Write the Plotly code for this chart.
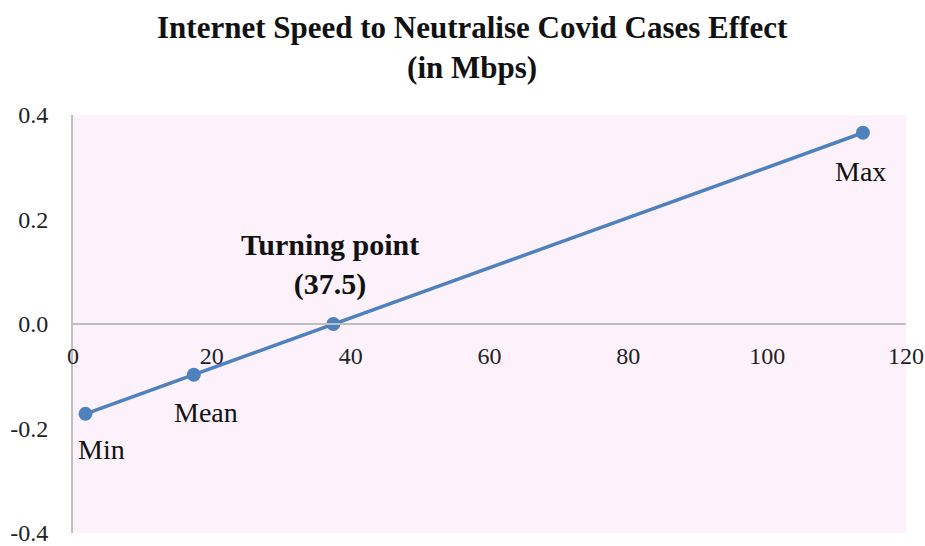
import plotly.graph_objects as go

# Internet speed (Mbps) against the estimated Covid-cases effect
speed = [1.8, 17.4, 37.5, 113.8]
effect = [-0.172, -0.097, 0.0, 0.366]
point_names = ["Min", "Mean", "Turning point<br>(37.5)", "Max"]

x_ticks = [0, 20, 40, 60, 80, 100, 120]
y_ticks = [-0.4, -0.2, 0.0, 0.2, 0.4]
y_tick_text = ["-0.4", "-0.2", "0.0", "0.2", "0.4"]

FONT = "Liberation Serif, Times New Roman, serif"
LINE_BLUE = "#4F81BD"
AXIS_GREY = "#BFBFBF"
TEXT = "#111111"

fig = go.Figure()
fig.add_trace(go.Scatter(
    x=speed, y=effect,
    mode="lines+markers",
    line=dict(color=LINE_BLUE, width=3.5),
    marker=dict(color=LINE_BLUE, size=14),
    hoverinfo="x+y",
    showlegend=False,
))

# Point labels: plain under Min/Mean/Max, bold above the turning point
label_offsets = {
    "Min": (16, -36),
    "Mean": (12, -38),
    "Max": (-2, -39),
}
for xv, yv, name in zip(speed, effect, point_names):
    if name in label_offsets:
        dx, dy = label_offsets[name]
        fig.add_annotation(
            x=xv, y=yv, text=name, showarrow=False,
            xshift=dx, yshift=dy,
            font=dict(family=FONT, size=28, color=TEXT),
        )
    else:
        fig.add_annotation(
            x=xv, y=yv, text="<b>" + name + "</b>", showarrow=False,
            yshift=60, xshift=-3,
            font=dict(family=FONT, size=30, color=TEXT),
        )

# Chart title, two lines above the plotting area
fig.add_annotation(
    xref="paper", yref="paper", x=0.48, y=1,
    xanchor="center", yanchor="middle", yshift=68,
    text="<b>Internet Speed to Neutralise Covid Cases Effect<br>(in Mbps)</b>",
    showarrow=False,
    font=dict(family=FONT, size=31, color=TEXT),
)

fig.update_layout(
    width=925, height=546,
    margin=dict(l=73, r=19, t=115, b=13),
    paper_bgcolor="white",
    plot_bgcolor="#FDF2FC",
    font=dict(family=FONT, size=24, color="#222222"),
    xaxis=dict(
        range=[0, 120],
        tickvals=x_ticks,
        ticktext=[str(v) for v in x_ticks],
        showgrid=False, zeroline=False,
        showline=True, linecolor=AXIS_GREY, linewidth=2,
        anchor="free", position=0.5,
        ticks="", ticklabelstandoff=10,
        ticklabeloverflow="allow",
        automargin=False,
        tickfont=dict(family=FONT, size=24, color="#222222"),
    ),
    yaxis=dict(
        range=[-0.4, 0.4],
        tickvals=y_ticks,
        ticktext=y_tick_text,
        showgrid=False, zeroline=False,
        showline=True, linecolor=AXIS_GREY, linewidth=2,
        ticks="", ticklabelstandoff=18,
        ticklabeloverflow="allow",
        automargin=False,
        tickfont=dict(family=FONT, size=24, color="#222222"),
    ),
)

fig.write_html("out.html")
